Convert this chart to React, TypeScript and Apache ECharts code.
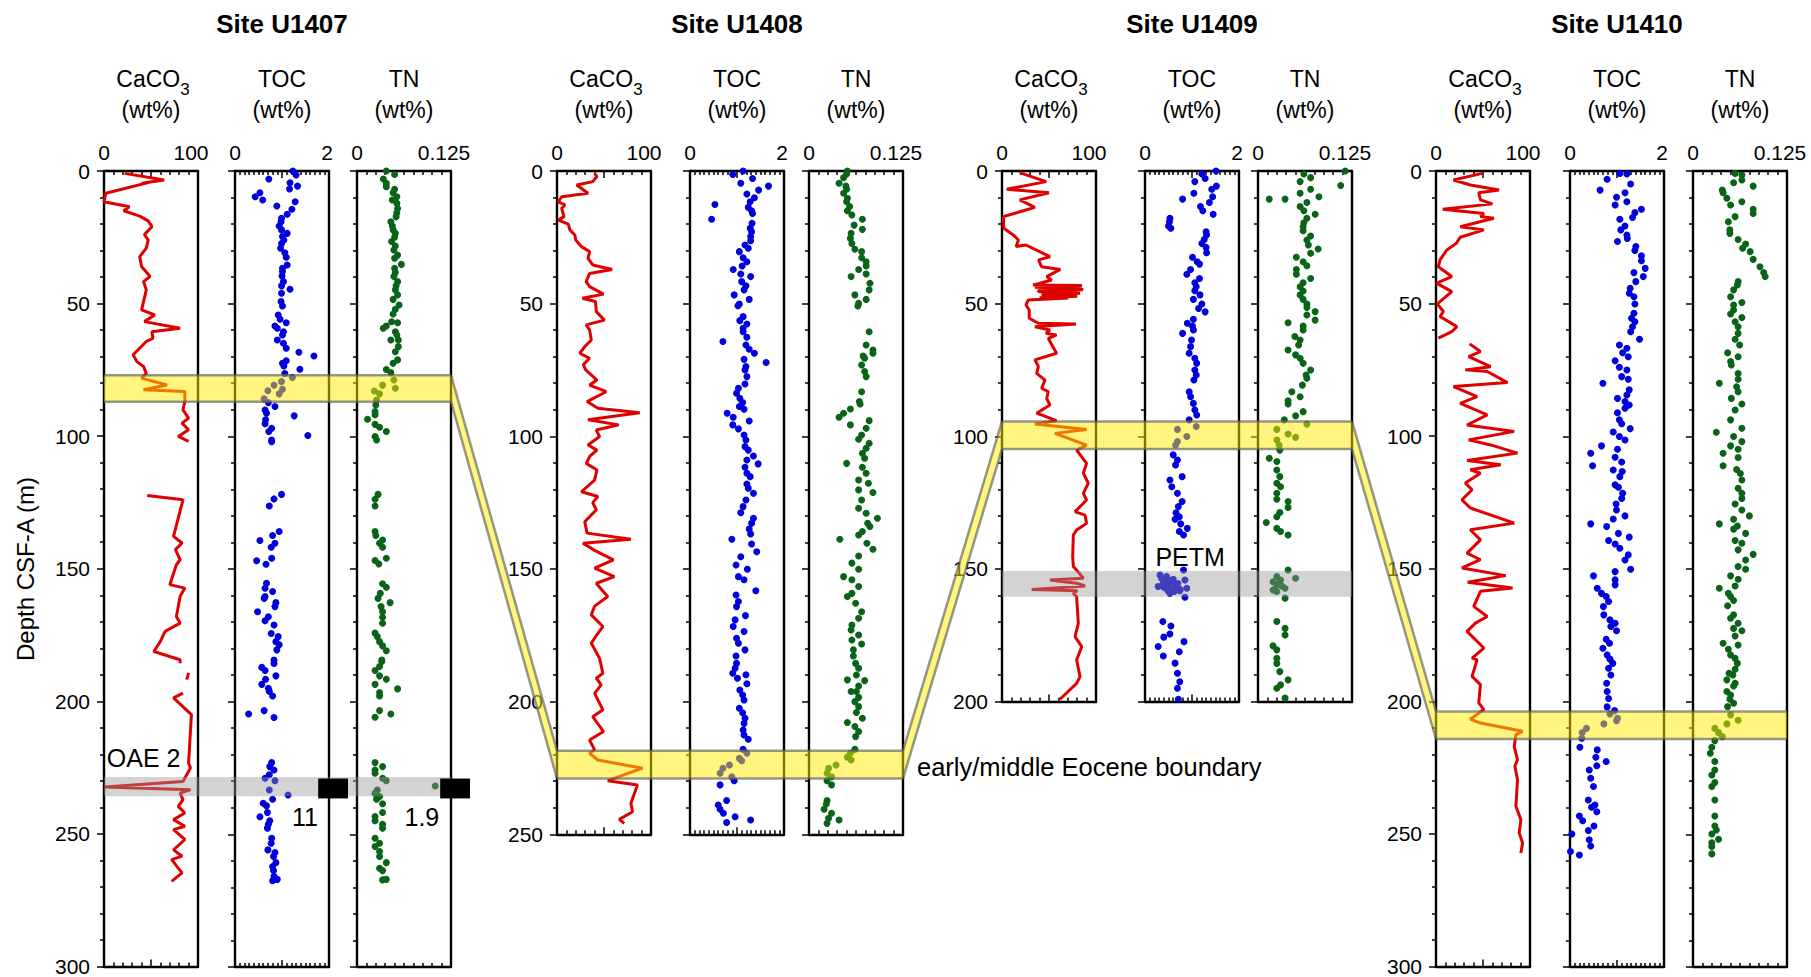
import React, { useEffect, useRef } from "react";
import * as echarts from "echarts";

type Pt = [number, number] | null; // [depth (m), value]

// ---------- titles / labels ----------
const SITE_NAMES = ["Site U1407", "Site U1408", "Site U1409", "Site U1410"];
const PANEL_NAMES = ["CaCO3", "TOC", "TN"];
const DEPTH_MAX = [300, 250, 200, 300];
const X_MAX = [100, 2, 0.125];
const X_MAX_LABEL = ["100", "2", "0.125"];
const Y_AXIS_NAME = "Depth CSF-A (m)";

// ---------- data: U1407 ----------
const U1407_CACO3: Pt[] = [
  [0.9, 22], [3.4, 64], [4.6, 40], [4.2, 49], [8.4, 2], [11.6, 0], [13.5, 27], [15, 21], [17, 38], [18.8, 47],
  [21, 51], [24, 43], [26, 47], [29.1, 45], [32.3, 38], [36, 40], [39.8, 49], [41.7, 42], [44.8, 45], [52.4, 40],
  [54.3, 54], [56.8, 43], [59.3, 81], [60.6, 51], [63.1, 52], [64.3, 45], [69.3, 31], [71.9, 35], [73.7, 42],
  [76.3, 45], [78.1, 40], [80.7, 67], [82.5, 42], [83.2, 86], [86.9, 86], [90.1, 84], [93.2, 90], [95.1, 83],
  [97.6, 90], [100.1, 79], [102, 90], null,
  [122.4, 46], [124, 84], [137.8, 74], [140.3, 83], [142.8, 76], [146.6, 81], [148.5, 77], [156, 70], [157.3, 86],
  [160.4, 81], [164.2, 79], [168, 77], [170.5, 81], [173.6, 65], [177.4, 60], [181.2, 53], [184.3, 81], [185.6, 81], null,
  [189.3, 90], [191.8, 88], null,
  [196.9, 84], [198.7, 74], [205, 93], [223.3, 90], [225.1, 92], [230.2, 84], [232.3, 1], [233.3, 92], [234.6, 81],
  [237.1, 84], [239.6, 79], [242.1, 86], [244.6, 74], [247.1, 86], [248.4, 74], [252.1, 86], [256, 74], [258.4, 83],
  [259.7, 72], [264.7, 83], [267.9, 72],
];
const U1407_TOC: Pt[] = [
  [0, 1.23], [1.5, 1.3], [3, 0.72], [4.4, 1.17], [5.7, 1.33], [6.8, 1.16], [8.2, 0.53], [9.7, 0.43], [10.9, 0.59],
  [11.6, 1.28], [13.2, 0.89], [14.4, 1.21], [16.3, 1.11], [17.8, 0.99], [19.1, 0.98], [20.7, 0.94], [22.2, 0.99],
  [23.5, 1.11], [24.7, 1.01], [26, 1.04], [27.3, 0.99], [29.1, 0.97], [30.8, 1.06], [32.5, 1.09], [35.4, 1.11],
  [36.7, 1.01], [37.9, 1.01], [39.6, 1.0], [41.7, 1.03], [43.3, 0.99], [44.6, 1.17], [46.1, 0.99], [49.2, 0.98],
  [50.9, 1.01], [54.3, 0.92], [55.9, 0.96], [57.2, 1.09], [58.4, 0.85], [59.3, 0.9], [60.6, 1.03], [61.8, 1.01],
  [63.7, 0.9], [64.9, 1.03], [66.8, 1.09], [68.3, 1.36], [69.7, 1.68], [71.5, 1.09], [72.5, 1.01], [73.5, 1.04],
  [74.7, 1.38], [76.3, 1.06], [77.8, 1.22], [79.4, 0.99], [80.7, 0.83], [82.3, 1.01], [82.8, 0.7], [84, 0.94],
  [85.9, 0.62], [87.3, 0.71], [88.8, 0.85], [90.1, 0.64], [91.3, 0.67], [92.3, 1.26], [93.8, 0.65], [95.3, 0.64],
  [97, 0.78], [98.2, 0.72], [99.7, 1.55], [101.4, 0.78], [102, 0.78], [121.9, 0.99], [123.6, 0.83], [126.3, 0.73],
  [135.9, 0.94], [137.4, 0.8], [139.3, 0.53], [140.3, 0.85], [141.8, 0.77], [146, 0.78], [146.9, 0.46], [148.2, 0.66],
  [155.4, 0.67], [157.3, 0.64], [158.5, 0.8], [160.4, 0.64], [161.1, 0.62], [162.7, 0.87], [164.2, 0.85], [166.1, 0.48],
  [168, 0.71], [169.5, 0.64], [171.1, 0.83], [174.3, 0.77], [175.5, 0.92], [177.4, 0.87], [178.6, 0.94], [180.5, 0.89],
  [184.3, 0.83], [185.6, 0.83], [187.1, 0.57], [188.3, 0.64], [190.3, 0.87], [191.6, 0.65], [193.5, 0.57], [195, 0.71],
  [196.2, 0.73], [197.9, 0.8], [203.4, 0.62], [204.7, 0.29], [206, 0.83], [223, 0.78], [224.5, 0.74], [225.8, 0.83],
  [227.6, 0.73], [228.9, 0.64], [229.8, 0.85], [233.3, 0.73], [235.2, 1.13], [236.8, 0.8], [238.3, 0.6], [239.3, 0.67],
  [241.8, 0.69], [243.4, 0.53], [244.9, 0.74], [246.2, 0.71], [247.7, 0.69], [251.5, 0.78], [253.4, 0.77], [255.9, 0.7],
  [256.9, 0.85], [258.4, 0.82], [260.7, 0.87], [262.2, 0.8], [263.7, 0.82], [265.8, 0.83], [267.5, 0.8], [267, 0.9],
];
const U1407_TN: Pt[] = [
  [0, 0.039], [1.3, 0.05], [3, 0.035], [4.6, 0.039], [5.9, 0.039], [6.9, 0.05], [8.2, 0.048], [9.7, 0.053], [10.9, 0.047],
  [12.2, 0.053], [14.1, 0.054], [15.7, 0.053], [17.2, 0.052], [19.1, 0.045], [20.7, 0.047], [22.2, 0.048], [23.5, 0.051],
  [25, 0.05], [26.6, 0.046], [28.3, 0.051], [29.8, 0.049], [31.7, 0.054], [32.9, 0.05], [35.2, 0.059], [36.7, 0.05],
  [38.3, 0.051], [39.8, 0.049], [41.7, 0.054], [43.3, 0.052], [44.8, 0.051], [46.7, 0.054], [48.4, 0.048], [50.5, 0.056],
  [52.1, 0.051], [53.9, 0.048], [56.8, 0.046], [57.2, 0.054], [58.4, 0.039], [59.3, 0.035], [60.6, 0.051], [61.8, 0.053],
  [63.7, 0.045], [63.7, 0.055], [66.2, 0.055], [68.1, 0.051], [71.2, 0.054], [72.5, 0.048], [74.8, 0.039], [76, 0.045],
  [78.8, 0.049], [80.7, 0.034], [81.9, 0.051], [82.9, 0.023], [84, 0.03], [86.3, 0.026], [88.2, 0.025], [90.7, 0.024],
  [91.9, 0.024], [93.6, 0.014], [95.5, 0.024], [96.6, 0.03], [98.2, 0.039], [100.1, 0.024], [101.4, 0.026],
  [121.9, 0.028], [123.7, 0.024], [126.3, 0.024], [135.9, 0.024], [137.4, 0.025], [139.1, 0.034], [140.3, 0.03],
  [141.8, 0.034], [146, 0.039], [146.8, 0.024], [148.1, 0.029], [155.6, 0.034], [156.9, 0.039], [159.2, 0.031],
  [161.1, 0.028], [162.7, 0.044], [164.2, 0.032], [166.1, 0.034], [168.2, 0.034], [170.5, 0.034], [174.2, 0.024],
  [175.5, 0.027], [177.4, 0.03], [179, 0.034], [180.8, 0.039], [184.3, 0.033], [184.9, 0.033], [186.8, 0.03],
  [188.3, 0.024], [190.3, 0.03], [191.6, 0.039], [193.5, 0.024], [195.2, 0.054], [196.6, 0.03], [197.9, 0.03],
  [203.4, 0.03], [204.7, 0.045], [205.9, 0.024], [223, 0.024], [224.5, 0.034], [225.8, 0.024], [227, 0.024],
  [228.9, 0.034], [229.8, 0.039], [231.8, 0.104], [233.3, 0.027], [234.6, 0.024], [235.8, 0.03], [236.8, 0.026],
  [238.5, 0.034], [241.8, 0.034], [243.3, 0.024], [244.9, 0.024], [246.2, 0.034], [247.7, 0.034], [251.5, 0.024],
  [253.4, 0.03], [254.6, 0.024], [256.5, 0.03], [258.4, 0.03], [260.7, 0.039], [262.8, 0.03], [263.7, 0.034],
  [267.2, 0.034], [267, 0.039],
];

// ---------- data: U1408 ----------
const U1408_CACO3: Pt[] = [
  [0.9, 40], [2.1, 42.5], [4, 38], [5.3, 21], [8.4, 33], [9.7, 5], [11.6, 1.4], [12.8, 8.4], [14.1, 5], [17.2, 7.4],
  [18.5, 1.4], [20, 12], [22.2, 13.7], [24.1, 19], [26, 20], [28.5, 26], [30.4, 34.7], [32.9, 33], [35.4, 38],
  [37.1, 58.6], [38.6, 34.7], [41.7, 31], [43.6, 34.7], [46.4, 49.5], [48, 27], [49.2, 41], [53, 41.8], [56.2, 50.5],
  [58, 31], [59.9, 34.7], [63.7, 36.5], [66, 30], [68.7, 24.2], [70.6, 34.7], [73, 28], [75, 30.5], [78.8, 42.5],
  [80.7, 34.7], [83.2, 52.3], [86.9, 32], [89.4, 43.5], [91.1, 88], [93.8, 33], [95.7, 65.6], [97.6, 41.8],
  [100.1, 45.3], [103.3, 33], [105.2, 42.5], [107.5, 35], [110.2, 31.2], [112.7, 42.5], [116.5, 40], [120.9, 26],
  [122.7, 43.5], [125, 38], [127.7, 41.8], [132.2, 29.5], [136.5, 32], [138.8, 78.6], [140.3, 27.7], [143, 40],
  [146.6, 60], [149.7, 40], [152.9, 61], [155.4, 41.8], [158, 48], [160.4, 54], [164, 40], [167.3, 36.5], [171.7, 48.8],
  [175, 42], [178, 36.5], [183.7, 45.3], [189.3, 48.8], [191.2, 41.8], [193.7, 47], [196.9, 40], [203.1, 48.8],
  [205.7, 38], [211.3, 49.5], [214.5, 34.7], [218.2, 40], [219.5, 34.7], [222, 43.5], [225.1, 91], [229.8, 54],
  [231.4, 85.6], [238.3, 78.6], [241.5, 80.4], [244.4, 66.3], [245.9, 71.6],
];
const U1408_TOC: Pt[] = [
  [0, 1.13], [1.3, 0.91], [2.8, 1.33], [4.6, 1.08], [5.7, 1.67], [7.2, 1.46], [8.7, 1.21], [10.1, 1.37], [11.6, 1.28],
  [12.6, 0.53], [13.7, 1.24], [15, 1.31], [16, 1.33], [18.2, 0.46], [19.7, 1.32], [21.6, 1.28], [22.9, 1.31],
  [24.7, 1.29], [26.3, 1.29], [27.9, 1.17], [29.1, 1.24], [30.4, 1.05], [32.7, 1.13], [34.2, 1.21], [35.8, 1.11],
  [37.1, 0.92], [38.8, 1.08], [39.8, 1.29], [41.7, 1.1], [43.3, 1.19], [44.8, 1.15], [46.7, 0.94], [48.4, 1.26],
  [50.1, 1.05], [50.8, 1.02], [54.9, 1.13], [56.4, 1.06], [57.7, 1.21], [59.3, 1.13], [60.6, 1.13], [62.7, 1.21],
  [64.3, 0.7], [65.6, 1.19], [67.2, 1.26], [68.7, 1.37], [71, 1.15], [72.2, 1.62], [73.7, 1.19], [75, 1.17],
  [77.5, 1.21], [80.3, 1.17], [81.9, 1.03], [83.8, 0.99], [85.7, 1.06], [87.3, 1.12], [88.8, 1.05], [89.8, 1.15],
  [91.3, 0.79], [92.8, 0.92], [94.2, 1.26], [95.7, 0.91], [97.2, 1.03], [99.5, 1.15], [101.4, 1.19], [103.9, 1.17],
  [105.2, 1.24], [107.4, 1.35], [108.9, 1.21], [110.4, 1.45], [111.7, 1.17], [113.9, 1.21], [115.2, 1.28], [118, 1.21],
  [119.6, 1.24], [121.5, 1.35], [124, 1.19], [126.5, 1.13], [128.8, 1.08], [130.9, 1.35], [132.8, 1.31], [135, 1.26],
  [136.8, 1.29], [138.8, 0.89], [140.6, 1.31], [143.5, 1.42], [145.4, 1.08], [148.5, 0.98], [150.1, 1.22],
  [152.9, 1.03], [154.1, 1.15], [158.2, 1.4], [159.8, 0.98], [162.3, 1.03], [164.2, 0.99], [167.6, 1.18], [169.2, 0.96],
  [171.7, 0.92], [173.6, 1.15], [176.1, 0.99], [178, 1.03], [180.5, 1.17], [182.8, 0.98], [185.6, 0.99], [187.4, 0.96],
  [189.3, 0.91], [189.9, 1.19], [191.2, 1.01], [193.3, 1.21], [195.6, 1.06], [197.5, 1.12], [199.4, 1.15],
  [202.5, 1.05], [204.2, 1.12], [206.3, 1.17], [208.2, 1.15], [210.7, 1.13], [212.6, 1.15], [214.2, 1.24], [218, 1.13],
  [219.5, 1.21], [221.4, 1.05], [222.3, 1.1], [223.9, 0.84], [225.1, 0.7], [227, 0.64], [228.3, 0.89], [229.8, 0.94],
  [231.4, 0.64], [237.3, 0.78], [239, 0.6], [240.6, 0.64], [242.1, 0.71], [243.4, 0.96], [244.6, 1.29], [245.6, 0.78],
];
const U1408_TN: Pt[] = [
  [0, 0.051], [1.1, 0.05], [2.5, 0.046], [4.6, 0.04], [5.7, 0.049], [6.9, 0.05], [8.4, 0.046], [10.3, 0.051],
  [11.6, 0.05], [13.4, 0.054], [15, 0.051], [16.6, 0.057], [18.2, 0.071], [20.4, 0.06], [22, 0.071], [23.5, 0.056],
  [25.4, 0.055], [27.3, 0.057], [29.5, 0.061], [30.4, 0.07], [32.7, 0.07], [34.2, 0.076], [35.8, 0.076], [37.1, 0.066],
  [38.8, 0.076], [39.8, 0.056], [42.3, 0.081], [44.8, 0.08], [46.7, 0.061], [48.4, 0.076], [49.9, 0.066], [50.9, 0.065],
  [60.6, 0.08], [65.6, 0.076], [67.5, 0.085], [68.7, 0.085], [69.7, 0.072], [70.6, 0.074], [73.1, 0.07], [75.6, 0.074],
  [77.5, 0.076], [83.2, 0.07], [86.9, 0.067], [87.8, 0.068], [89.7, 0.055], [91.3, 0.046], [92.8, 0.04], [94.1, 0.08],
  [95.7, 0.055], [97, 0.076], [99.5, 0.07], [101.1, 0.066], [102.6, 0.08], [104.5, 0.076], [106.4, 0.071],
  [108.3, 0.074], [110.2, 0.05], [111.7, 0.071], [113.9, 0.076], [116.5, 0.066], [117.7, 0.079], [120.2, 0.066],
  [121.2, 0.085], [124, 0.07], [127.1, 0.066], [129, 0.076], [130.9, 0.091], [132.8, 0.078], [134, 0.081],
  [135.9, 0.071], [137.2, 0.066], [138.8, 0.041], [140.3, 0.077], [142.6, 0.085], [145.1, 0.066], [147.8, 0.057],
  [150.1, 0.066], [152.9, 0.046], [154.1, 0.057], [156.6, 0.066], [159.2, 0.057], [160.4, 0.051], [162.9, 0.062],
  [166.1, 0.07], [168.6, 0.066], [171.1, 0.057], [173, 0.056], [174.9, 0.066], [176.8, 0.057], [178.3, 0.07],
  [180.5, 0.059], [182.8, 0.059], [185.6, 0.062], [187.4, 0.066], [190, 0.063], [191.8, 0.051], [192.1, 0.074],
  [194.1, 0.066], [196.2, 0.063], [196.2, 0.056], [198.4, 0.066], [200, 0.061], [201.9, 0.066], [204.1, 0.063],
  [206.3, 0.071], [207.9, 0.051], [209.4, 0.061], [211.3, 0.066], [213.2, 0.062], [218, 0.061], [219.5, 0.055],
  [221, 0.051], [222, 0.056], [223.9, 0.036], [225.1, 0.026], [227, 0.024], [228.3, 0.03], [229.8, 0.024],
  [231.4, 0.03], [237.3, 0.024], [238.6, 0.023], [240.6, 0.02], [242.1, 0.03], [244, 0.026], [244.6, 0.04], [245.9, 0.024],
];

// ---------- data: U1409 ----------
const U1409_CACO3: Pt[] = [
  [0.3, 19], [0.9, 21], [4, 47], [6.9, 5], [8.2, 50], [10.9, 19], [13.7, 35], [17.2, 1.4], [21.6, 2], [24.1, 12],
  [26, 17.4], [28.5, 15], [27.9, 25.5], [32.3, 51], [33.5, 39], [36.1, 42], [37.1, 62], [39.8, 47.5], [41.1, 52.8],
  [43, 33], [43.2, 85], [43.8, 35], [44.4, 84], [44.8, 86], [45.1, 38], [45.5, 40], [46.1, 83], [46.7, 42],
  [47.2, 80], [47.8, 40], [47.9, 70.6], [48.6, 28], [50.5, 25.5], [52.4, 29], [55.5, 29], [57.4, 38.7], [57.7, 78.7],
  [58.7, 35], [59.9, 51], [61.2, 46.8], [61.8, 58], [63.1, 49.3], [68.7, 58], [71.2, 35], [73.7, 38.7], [76.3, 36.9],
  [78.8, 45.7], [81.9, 42.2], [83.2, 49.3], [85.7, 47.5], [88.2, 51], [91.3, 36.9], [94.1, 58], [95.4, 35], [97.4, 90],
  [98.9, 56.4], [103.3, 90], [105.2, 79.4], [110.2, 90], [113.9, 86.5], [117.7, 91.8], [121.5, 86.5], [124, 90],
  [128.4, 77.7], [129.7, 88.3], [132.8, 90], [135.3, 79.4], [137.2, 75.9], [145.4, 75.2], [149.1, 75.9], [151.5, 82],
  [153.5, 86.5], [154.2, 51], [155.4, 79.4], [156.4, 88.3], [157.7, 31.6], [158.2, 80], [159.2, 75.9], [160.4, 79.4],
  [170.5, 81.2], [175.5, 77.7], [179.3, 84.8], [184.3, 79.4], [190.6, 83], [193.1, 79.4], [199.1, 61.7],
];
const U1409_TOC: Pt[] = [
  [0, 1.51], [1.1, 1.21], [2.8, 1.28], [4, 1.06], [5.7, 1.52], [6.9, 1.42], [8.4, 1.04], [9.7, 1.44], [10.6, 0.8],
  [11.9, 1.37], [13.4, 1.18], [15, 1.23], [16.3, 1.45], [17.8, 0.53], [19.1, 0.52], [20.7, 0.5], [21.6, 0.55],
  [22.9, 1.3], [24.1, 1.31], [25.8, 1.26], [27.3, 1.21], [28.8, 1.3], [30.8, 1.31], [32.5, 1.01], [34.2, 1.11],
  [35.1, 1.16], [37.1, 0.97], [38.9, 0.89], [40.5, 1.16], [42.1, 1.06], [43.6, 1.09], [45.1, 1.06], [46.7, 1.17],
  [48.4, 1.03], [50.1, 1.21], [51.8, 1.14], [53.1, 1.28], [55.9, 1.03], [57.4, 0.9], [58.4, 1.01], [59.9, 1.03],
  [61.2, 0.8], [63.7, 0.99], [66.2, 0.97], [68.7, 0.94], [70.6, 1.06], [72.5, 1.1], [75, 1.06], [76.9, 1.09],
  [78.8, 1.04], [83.2, 0.94], [85.1, 0.97], [87.6, 1.03], [90.1, 1.06], [92, 1.1], [93.8, 0.94], [96.3, 1.09],
  [97.4, 0.69], [100.1, 0.89], [102, 0.69], [103.3, 0.65], [107, 0.6], [108.9, 0.69], [110.8, 0.65], [115.2, 0.79],
  [116.5, 0.53], [119, 0.57], [121.5, 0.69], [124.6, 0.79], [126.5, 0.71], [128.8, 0.66], [130.3, 0.73], [131.3, 0.64],
  [133, 0.76], [134.7, 0.9], [135.9, 0.73], [137.2, 0.82], [150.4, 0.82], [152.3, 0.32], [152.9, 0.46], [153.5, 0.35],
  [153.9, 0.6], [154.2, 0.85], [154.5, 0.55], [155, 0.45], [155.5, 0.7], [155.8, 0.38], [156, 0.5], [156.2, 0.65],
  [156.6, 0.28], [156.9, 0.4], [157.3, 0.6], [157.3, 0.89], [157.8, 0.75], [158, 0.48], [158.2, 0.74], [158.5, 0.62],
  [159.2, 0.53], [160.7, 0.85], [169.8, 0.38], [171.5, 0.55], [174.5, 0.53], [175.7, 0.4], [177.4, 0.83], [179.2, 0.28],
  [181.2, 0.73], [182.8, 0.39], [185.5, 0.64], [189.3, 0.69], [192.5, 0.74], [195, 0.69], [199.1, 0.71],
];
const U1409_TN: Pt[] = [
  [0, 0.116], [1.1, 0.061], [2.5, 0.07], [4, 0.056], [5.5, 0.11], [6.9, 0.07], [8.4, 0.056], [9.7, 0.081], [10.6, 0.015],
  [10.6, 0.036], [11.9, 0.065], [13.4, 0.056], [15, 0.061], [16.3, 0.076], [17.8, 0.065], [19.5, 0.061], [21, 0.06],
  [22.5, 0.06], [24.5, 0.07], [26, 0.065], [27.9, 0.067], [29.4, 0.08], [31, 0.07], [32.5, 0.051], [34.2, 0.06],
  [35.7, 0.065], [37.1, 0.051], [38.9, 0.051], [40.5, 0.07], [42.1, 0.06], [43.6, 0.056], [45.2, 0.06], [46.7, 0.056],
  [48.4, 0.06], [50.1, 0.065], [51.4, 0.065], [53, 0.076], [54.3, 0.065], [56.2, 0.076], [57.2, 0.04], [58.4, 0.06],
  [59.9, 0.06], [62.4, 0.049], [63.7, 0.056], [65.6, 0.054], [67.5, 0.04], [69.3, 0.05], [70.6, 0.056], [72.5, 0.06],
  [75, 0.07], [76.9, 0.064], [78.1, 0.065], [80.7, 0.059], [83.2, 0.045], [85.1, 0.056], [86.6, 0.04], [87.8, 0.04],
  [90.7, 0.06], [92.3, 0.05], [93.8, 0.035], [95.4, 0.065], [97.4, 0.025], [99.1, 0.04], [100.4, 0.05], [101.4, 0.025],
  [103.3, 0.028], [105.2, 0.029], [108.3, 0.015], [109.5, 0.025], [112.7, 0.025], [115.2, 0.029], [117.7, 0.025],
  [119, 0.03], [121.5, 0.025], [123.7, 0.025], [124.6, 0.04], [126.8, 0.04], [128.7, 0.029], [130.3, 0.025],
  [132.5, 0.011], [134.7, 0.025], [135.9, 0.03], [137.2, 0.04], [150.4, 0.04], [152.9, 0.025], [153.5, 0.05],
  [154.2, 0.03], [154.8, 0.02], [155.4, 0.029], [156, 0.025], [156.5, 0.032], [157.3, 0.036], [157.9, 0.02],
  [158.5, 0.025], [161, 0.036], [169.8, 0.025], [172.4, 0.036], [174.9, 0.036], [179, 0.02], [180.5, 0.025],
  [183.7, 0.025], [185.6, 0.025], [188.7, 0.029], [191.8, 0.04], [193.7, 0.03], [195, 0.025], [198.7, 0.036],
];

// ---------- data: U1410 ----------
const U1410_CACO3: Pt[] = [
  [0.9, 49], [3.4, 18.6], [5.3, 36.6], [7.2, 67], [8.2, 45.5], [10.9, 47.3], [12.4, 59.9], [14.4, 7.2], [16, 50.9],
  [17.2, 47.3], [17.8, 61.6], [21, 25.8], [22.2, 50.9], [25, 25.8], [27.3, 21.5], [29.8, 11.5], [33.5, 4.3],
  [36.1, 2.5], [39.8, 16.8], [42.3, 0.7], [45.5, 16.8], [50.1, 1.4], [53, 7.9], [54.9, 4.3], [58.7, 22.2],
  [60.6, 16.8], [63, 2.5], null,
  [65.2, 35.8], [68.1, 47.3], [70, 34.8], [73.8, 58.1], [75, 31.2], [75.6, 54.5], [79.8, 76], [81.3, 18.6],
  [85.1, 43.7], [87.6, 25.8], [92, 54.5], [95.8, 33], [98.2, 83.2], [101.4, 34.8], [103.3, 58.1], [106.4, 86.7],
  [109.2, 33], [110.8, 68.8], [112.7, 36.6], [114, 47.3], [117.7, 31.2], [120.2, 38.4], [124, 27.6], [127.1, 36.6],
  [132.8, 83.2], [135.3, 36.6], [139.1, 47.3], [144.1, 33], [146.6, 47.3], [149.7, 27.6], [152.6, 74.2], [155.1, 33.7],
  [157.3, 81.4], [158.5, 47.3], [164.2, 40.1], [168, 54.5], [170.5, 41.9], [173.6, 33], [179.9, 50.9], [183.7, 38.4],
  [184.3, 43.7], [190.6, 38.4], [193.7, 47.3], [200.6, 45.5], [203.1, 50.9], [206.7, 36.6], [208.2, 47.3],
  [211.3, 92.1], [212.6, 85], [217, 83.2], [222, 86.7], [224.5, 83.9], [229.5, 86.7], [239.6, 85], [244.6, 90.3],
  [249.6, 88.5], [253.4, 92.1], [257.2, 90.3],
];
const U1410_TOC: Pt[] = [
  [0.9, 1.06], [1.1, 1.21], [3.1, 0.79], [4.9, 1.29], [7.2, 0.64], [8.2, 1.17], [9.9, 0.99], [11.6, 1.21], [12.8, 0.96],
  [14.4, 1.52], [15.7, 1.38], [17.5, 1.33], [18.2, 1.06], [20.7, 1.17], [22.2, 1.08], [24.1, 1.21], [25.4, 1.22],
  [26.6, 1.01], [28.5, 1.4], [30, 1.38], [32, 1.52], [33.8, 1.52], [36.7, 1.6], [38.3, 1.36], [39.8, 1.56], [41.7, 1.4],
  [44.2, 1.28], [46.1, 1.26], [47.4, 1.36], [50.1, 1.38], [53.6, 1.36], [55.5, 1.31], [56.8, 1.38], [58.7, 1.33],
  [60.6, 1.29], [63.4, 1.48], [65.6, 1.05], [66.8, 1.21], [68.5, 1.12], [70, 1.24], [71.5, 0.96], [74, 1.05],
  [75, 1.21], [77.5, 1.1], [78.5, 1.24], [80, 0.7], [82.5, 1.26], [84.4, 1.21], [85.7, 1.01], [86.9, 1.17], [88.2, 1.26],
  [89.4, 1.17], [91.1, 1.01], [93.8, 1.05], [95.3, 1.1], [97.1, 1.28], [98.4, 0.92], [100.1, 1.05], [101.4, 1.17],
  [103.6, 0.67], [104.9, 1.01], [106.4, 0.44], [107.9, 0.96], [109.7, 1.1], [111.1, 0.48], [112.7, 0.92], [113.3, 1.11],
  [115.2, 1.06], [118.3, 0.96], [119.2, 1.03], [121.5, 1.12], [123.4, 1.1], [125.5, 0.98], [127.8, 0.99], [130, 1.17],
  [131.2, 0.92], [133, 0.44], [134, 0.78], [136.6, 1.03], [138, 1.26], [139.3, 0.82], [140.6, 0.96], [142.2, 1.06],
  [144.7, 1.24], [146.6, 1.17], [150.1, 1.29], [151, 0.96], [152.6, 0.5], [154.1, 0.96], [156, 0.96], [157.3, 0.58],
  [159.2, 0.67], [160.4, 0.77], [162.3, 0.82], [164.2, 0.71], [167.3, 0.72], [169.2, 0.85], [170.5, 0.96],
  [171.7, 0.87], [173.3, 0.99], [176.5, 0.77], [178, 0.84], [179.9, 0.7], [182.4, 0.79], [184, 0.85], [185.6, 0.91],
  [187.4, 0.82], [190, 0.87], [193.1, 0.78], [196.2, 0.79], [198.8, 0.82], [202, 0.79], [203.4, 0.95], [204.7, 0.85],
  [206.3, 1.01], [207.2, 0.99], [208.4, 0.72], [210.1, 0.35], [211.7, 0.26], [213.8, 0.25], [217.2, 0.21],
  [218.2, 0.58], [221, 0.55], [222.6, 0.77], [224.2, 0.57], [225.8, 0.41], [228.9, 0.44], [232, 0.5], [237.1, 0.39],
  [239, 0.53], [239.8, 0.46], [241.5, 0.57], [243.1, 0.2], [244.9, 0.27], [246.9, 0.51], [248.6, 0.39], [249.9, 0.04],
  [252.1, 0.41], [254.4, 0.44], [256.5, 0.01], [257.8, 0.2],
];
const U1410_TN: Pt[] = [
  [0.9, 0.056], [1.5, 0.065], [3.4, 0.065], [4.4, 0.054], [5.7, 0.08], [7.2, 0.039], [8.2, 0.04], [10.3, 0.045],
  [11.6, 0.065], [12.8, 0.05], [14.4, 0.08], [16, 0.08], [17.2, 0.056], [19.1, 0.047], [22.2, 0.049], [23.5, 0.049],
  [25.8, 0.06], [27.5, 0.07], [29.1, 0.066], [30.4, 0.076], [33.3, 0.08], [36.1, 0.089], [38.3, 0.094], [39.8, 0.096],
  [41.7, 0.06], [43, 0.059], [44.8, 0.054], [47.4, 0.05], [49.6, 0.065], [50.5, 0.054], [52.4, 0.054], [53.9, 0.05],
  [55.2, 0.065], [56.8, 0.056], [58.7, 0.06], [61.2, 0.06], [63.4, 0.056], [65.6, 0.062], [68.5, 0.046], [70, 0.06],
  [71.8, 0.05], [73.1, 0.051], [76.3, 0.06], [78.5, 0.06], [80, 0.035], [81.3, 0.058], [83.2, 0.06], [85.7, 0.051],
  [87.8, 0.065], [90.1, 0.056], [93.8, 0.05], [97, 0.065], [98.5, 0.031], [100.1, 0.054], [102, 0.065], [103.6, 0.05],
  [104.9, 0.06], [106.4, 0.04], [108, 0.06], [111.1, 0.04], [112.5, 0.058], [114, 0.063], [116.5, 0.065], [119.6, 0.06],
  [121.5, 0.065], [123.4, 0.065], [125.5, 0.056], [127.8, 0.065], [130, 0.075], [131.3, 0.054], [133, 0.035],
  [133.8, 0.059], [135, 0.054], [136.6, 0.07], [139.3, 0.056], [140.3, 0.065], [142.8, 0.06], [144.5, 0.08],
  [146.6, 0.07], [149.1, 0.06], [150.1, 0.07], [152.6, 0.05], [153.9, 0.06], [156.4, 0.056], [157.3, 0.035],
  [159.2, 0.047], [160.4, 0.05], [161.9, 0.054], [163.9, 0.046], [167.3, 0.054], [168.6, 0.05], [170.5, 0.06],
  [172.4, 0.054], [173.3, 0.065], [175.3, 0.056], [178, 0.04], [178.7, 0.06], [180.3, 0.047], [182.4, 0.05],
  [183.7, 0.056], [185.6, 0.059], [187.8, 0.056], [189.3, 0.048], [190, 0.053], [191.8, 0.045], [193.1, 0.056],
  [194.1, 0.054], [196.2, 0.045], [197.5, 0.05], [199.1, 0.049], [200.6, 0.054], [201.9, 0.046], [205, 0.05],
  [207, 0.06], [208.4, 0.045], [210.1, 0.029], [211.7, 0.034], [213.2, 0.039], [214.7, 0.029], [217.2, 0.025],
  [219.5, 0.023], [222.6, 0.029], [225.8, 0.029], [227.7, 0.025], [230.5, 0.029], [232, 0.025], [237.1, 0.029],
  [243.1, 0.029], [246.9, 0.029], [248.4, 0.031], [249.9, 0.025], [251.9, 0.034], [253.2, 0.025], [254.6, 0.025],
  [257.4, 0.025],
];

const SITE_DATA: Pt[][][] = [
  [U1407_CACO3, U1407_TOC, U1407_TN],
  [U1408_CACO3, U1408_TOC, U1408_TN],
  [U1409_CACO3, U1409_TOC, U1409_TN],
  [U1410_CACO3, U1410_TOC, U1410_TN],
];

// depth ranges (m) of the early/middle Eocene boundary at each site
const BOUNDARY_DEPTHS: [number, number][] = [[77, 87], [218.5, 229], [94.4, 104.8], [203.8, 214.2]];
// event intervals
const EVENT_SITE = [0, 2];
const EVENT_NAMES = ["OAE 2", "PETM"];
const EVENT_DEPTHS: [number, number][] = [[228.5, 235.8], [150.8, 160.5]];
// off-scale values at OAE 2 (site U1407): TOC and TN
const OFFSCALE_PANEL = [1, 2];
const OFFSCALE_LABEL = ["11", "1.9"];
const OFFSCALE_DEPTH: [number, number][] = [[229, 236.5], [229, 236.5]];

// ---------- layout / style ----------
const W = 1811;
const H = 977;
const TOP = 171;
const PX_PER_M = 2.653;
const PANEL_W = 94;
const PANEL_LEFT = [[104, 235, 357], [557, 690, 809], [1002, 1145, 1258], [1436, 1570, 1693]];
const FONT = '"Liberation Sans", Arial, Helvetica, sans-serif';
const RED = "#e00000";
const BLUE = "#0000dd";
const GREEN = "#0a6418";
const YELLOW_FILL = "rgba(255,236,0,0.5)";
const BAND_EDGE = "rgba(95,95,95,0.65)";
const GREY_FILL = "rgba(150,150,150,0.42)";
const X_INTERVAL = [50, 1, 0.0125];
const X_MINOR = [5, 10, 0];
const X_LABEL_SHIFT = [14, 4, 14];

function buildOption() {
  const grid: any[] = [];
  const xAxis: any[] = [];
  const yAxis: any[] = [];
  const series: any[] = [];
  const tickStyle = { color: "#000", width: 1.5 };
  SITE_NAMES.forEach((_, si) => {
    for (let pi = 0; pi < 3; pi++) {
      const gi = si * 3 + pi;
      grid.push({
        left: PANEL_LEFT[si][pi],
        top: TOP,
        width: PANEL_W,
        height: DEPTH_MAX[si] * PX_PER_M,
      });
      const xCommon = {
        type: "value",
        gridIndex: gi,
        min: 0,
        max: X_MAX[pi],
        interval: X_INTERVAL[pi],
        axisLine: { show: true, onZero: false, lineStyle: { color: "#000", width: 2.4 } },
        axisTick: { show: true, inside: true, length: X_MINOR[pi] ? 7 : 4, lineStyle: tickStyle },
        minorTick: { show: X_MINOR[pi] > 0, splitNumber: X_MINOR[pi] || 5, length: 4, lineStyle: tickStyle },
        splitLine: { show: false },
        minorSplitLine: { show: false },
      };
      const maxV = X_MAX[pi];
      const maxLabel = X_MAX_LABEL[pi];
      xAxis.push({
        ...xCommon,
        position: "top",
        axisLabel: {
          show: true,
          margin: 8,
          fontSize: 21,
          fontFamily: FONT,
          color: "#000",
          showMinLabel: true,
          showMaxLabel: true,
          formatter: (v: number) =>
            Math.abs(v) < 1e-9 ? "0" : Math.abs(v - maxV) < 1e-9 ? `{m|${maxLabel}}` : "",
          rich: {
            m: { fontSize: 21, fontFamily: FONT, color: "#000", padding: [0, X_LABEL_SHIFT[pi], 0, 0] },
          },
        },
      });
      xAxis.push({ ...xCommon, position: "bottom", axisLabel: { show: false } });
      const yCommon = {
        type: "value",
        gridIndex: gi,
        inverse: true,
        min: 0,
        max: DEPTH_MAX[si],
        interval: 50,
        splitLine: { show: false },
        minorSplitLine: { show: false },
        axisLine: { show: true, onZero: false, lineStyle: { color: "#000", width: 2.4 } },
      };
      yAxis.push({
        ...yCommon,
        position: "left",
        axisTick: { show: true, inside: false, length: 7, lineStyle: tickStyle },
        minorTick: { show: true, splitNumber: 5, length: 4, lineStyle: tickStyle },
        axisLabel: { show: pi === 0, fontSize: 21, fontFamily: FONT, color: "#000", margin: 14 },
      });
      yAxis.push({
        ...yCommon,
        position: "right",
        axisTick: { show: false },
        minorTick: { show: false },
        axisLabel: { show: false },
      });
      const pts = SITE_DATA[si][pi];
      if (pi === 0) {
        series.push({
          type: "line",
          name: `${SITE_NAMES[si]} ${PANEL_NAMES[pi]}`,
          xAxisIndex: 2 * gi,
          yAxisIndex: 2 * gi,
          data: pts.map((p) => (p ? [p[1], p[0]] : ["-", "-"])),
          showSymbol: false,
          symbol: "none",
          connectNulls: false,
          lineStyle: { color: RED, width: 3, opacity: 1 },
          z: 3,
        });
      } else {
        series.push({
          type: "scatter",
          name: `${SITE_NAMES[si]} ${PANEL_NAMES[pi]}`,
          xAxisIndex: 2 * gi,
          yAxisIndex: 2 * gi,
          data: pts.filter((p) => p).map((p) => [p![1], p![0]]),
          symbol: "circle",
          symbolSize: 7,
          itemStyle: { color: pi === 1 ? BLUE : GREEN, opacity: 1 },
          z: 3,
        });
      }
    }
  });
  return { animation: false, backgroundColor: "#fff", grid, xAxis, yAxis, series };
}

function buildGraphics(chart: any) {
  const px = (si: number, pi: number, x: number, d: number): number[] => {
    const gi = si * 3 + pi;
    return chart.convertToPixel({ xAxisIndex: 2 * gi, yAxisIndex: 2 * gi }, [x, d]);
  };
  const g: any[] = [];
  const text = (x: number, y: number, t: string, size: number, extra: any = {}) =>
    g.push({
      type: "text",
      x,
      y,
      z: 120,
      silent: true,
      ...extra,
      style: {
        text: t,
        fontSize: size,
        fontFamily: FONT,
        fill: "#000",
        align: "center",
        verticalAlign: "middle",
        ...(extra.style || {}),
      },
    });
  const edge = (x1: number, y1: number, x2: number, y2: number) =>
    g.push({
      type: "line",
      z: 101,
      silent: true,
      shape: { x1, y1, x2, y2 },
      style: { stroke: BAND_EDGE, lineWidth: 2.5 },
    });

  // titles & headers
  SITE_NAMES.forEach((name, si) => {
    const tocCenter = px(si, 1, X_MAX[1] / 2, 0)[0];
    text(tocCenter, 24, name, 26, { style: { fontWeight: "bold" } });
    for (let pi = 0; pi < 3; pi++) {
      const cx = px(si, pi, X_MAX[pi] / 2, 0)[0];
      if (pi === 0) {
        g.push({
          type: "text",
          x: cx + 2,
          y: 79,
          z: 120,
          silent: true,
          style: {
            text: "{a|CaCO}{b|3}",
            align: "center",
            verticalAlign: "middle",
            fill: "#000",
            rich: {
              a: { fontSize: 23, fontFamily: FONT, lineHeight: 38, fill: "#000" },
              b: { fontSize: 17, fontFamily: FONT, lineHeight: 18, verticalAlign: "bottom", fill: "#000" },
            },
          },
        });
      } else {
        text(cx, 79, PANEL_NAMES[pi], 23);
      }
      text(cx, 110, "(wt%)", 23);
    }
  });
  // y axis name
  text(25, TOP + (300 * PX_PER_M) / 2, Y_AXIS_NAME, 24, { rotation: Math.PI / 2 });

  // boundary bands within sites
  const bandPix = BOUNDARY_DEPTHS.map((b, si) => {
    const [xl, yt] = px(si, 0, 0, b[0]);
    const yb = px(si, 0, 0, b[1])[1];
    const xr = px(si, 2, X_MAX[2], b[0])[0];
    return { xl, xr, yt, yb };
  });
  bandPix.forEach((b) => {
    g.push({
      type: "rect",
      z: 100,
      silent: true,
      shape: { x: b.xl, y: b.yt, width: b.xr - b.xl, height: b.yb - b.yt },
      style: { fill: YELLOW_FILL },
    });
    edge(b.xl, b.yt, b.xr, b.yt);
    edge(b.xl, b.yb, b.xr, b.yb);
  });
  // connectors between sites
  for (let si = 0; si < bandPix.length - 1; si++) {
    const a = bandPix[si];
    const b = bandPix[si + 1];
    g.push({
      type: "polygon",
      z: 100,
      silent: true,
      shape: { points: [[a.xr, a.yt], [b.xl, b.yt], [b.xl, b.yb], [a.xr, a.yb]] },
      style: { fill: YELLOW_FILL },
    });
    edge(a.xr, a.yt, b.xl, b.yt);
    edge(a.xr, a.yb, b.xl, b.yb);
  }

  // event bands (OAE 2, PETM)
  EVENT_SITE.forEach((si, k) => {
    const [xl, yt] = px(si, 0, 0, EVENT_DEPTHS[k][0]);
    const yb = px(si, 0, 0, EVENT_DEPTHS[k][1])[1];
    const xr = px(si, 2, X_MAX[2], EVENT_DEPTHS[k][0])[0];
    g.push({
      type: "rect",
      z: 100,
      silent: true,
      shape: { x: xl, y: yt, width: xr - xl, height: yb - yt },
      style: { fill: GREY_FILL },
    });
  });

  // OAE 2 / PETM labels
  {
    const p = px(0, 0, 3, 221.3);
    text(p[0], p[1], EVENT_NAMES[0], 25, { style: { align: "left" } });
    const q = px(2, 1, 0.96, 145.5);
    text(q[0], q[1], EVENT_NAMES[1], 25);
    const r = px(1, 2, X_MAX[2], 224.6);
    text(r[0] + 14, r[1], "early/middle Eocene boundary", 25.5, { style: { align: "left" } });
  }

  // off-scale markers at OAE 2
  OFFSCALE_PANEL.forEach((pi, k) => {
    const [x0, y0] = px(0, pi, X_MAX[pi] * 0.885, OFFSCALE_DEPTH[k][0]);
    const y1 = px(0, pi, 0, OFFSCALE_DEPTH[k][1])[1];
    const xr = px(0, pi, X_MAX[pi], 0)[0] + 19;
    g.push({
      type: "rect",
      z: 110,
      silent: true,
      shape: { x: x0, y: y0, width: xr - x0, height: y1 - y0 },
      style: { fill: "#000" },
    });
    const lp = px(0, pi, X_MAX[pi] * (pi === 1 ? 0.745 : 0.69), 243.5);
    text(lp[0], lp[1], OFFSCALE_LABEL[k], 25);
  });
  return g;
}

export default function App() {
  const ref = useRef<HTMLDivElement>(null);
  useEffect(() => {
    const el = ref.current;
    if (!el) return;
    const chart = echarts.init(el, null, { renderer: "svg" });
    chart.setOption(buildOption() as any);
    chart.setOption({ graphic: { elements: buildGraphics(chart) } } as any);
    return () => chart.dispose();
  }, []);
  return (
    <div
      ref={ref}
      style={{ position: "absolute", left: 0, top: 0, width: W, height: H, background: "#fff" }}
    />
  );
}
